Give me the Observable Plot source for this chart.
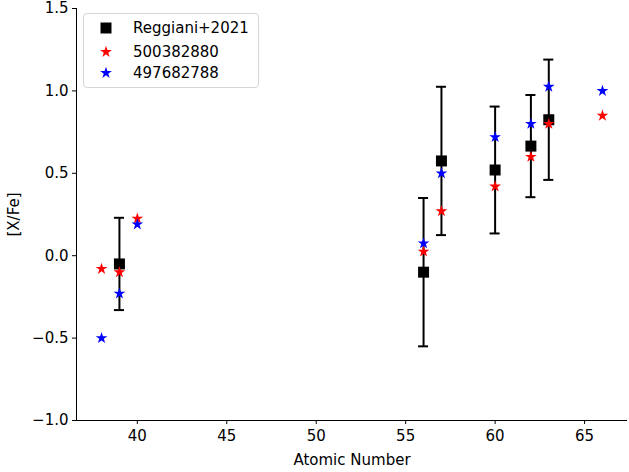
<!DOCTYPE html>
<html><head><meta charset="utf-8">
<script src="https://cdn.jsdelivr.net/npm/d3@7"></script>
<script src="https://cdn.jsdelivr.net/npm/@observablehq/plot@0.6"></script>
<style>
body{margin:0;background:#fff;font-family:"DejaVu Sans",sans-serif;}
#wrap{position:relative;width:629px;height:472px;}
#legend{position:absolute;left:83px;top:13px;width:176px;height:75px;border:1px solid #d5d5d5;border-radius:4px;background:rgba(255,255,255,0.8);box-sizing:border-box;font-size:15px;}
.row{position:absolute;left:0;height:22px;display:flex;align-items:center;}
.row svg{margin-left:15px;}
.row span{margin-left:20px;color:#000;}
</style></head>
<body><div id="wrap"><div id="chart"></div><div id="legend"></div></div>
<script>
// Reggiani+2021
const refZ = [39, 56, 57, 60, 62, 63];
const refY = [-0.05, -0.10, 0.575, 0.52, 0.665, 0.825];
const refErr = [0.28, 0.45, 0.45, 0.385, 0.31, 0.365];
// 500382880 (red)
const redZ = [38, 39, 40, 56, 57, 60, 62, 63, 66];
const redY = [-0.08, -0.10, 0.225, 0.025, 0.27, 0.42, 0.60, 0.80, 0.85];
// 497682788 (blue)
const blueZ = [38, 39, 40, 56, 57, 60, 62, 63, 66];
const blueY = [-0.50, -0.23, 0.19, 0.075, 0.50, 0.72, 0.80, 1.025, 1.00];
const xTicks = [40, 45, 50, 55, 60, 65];
const yTicks = [-1.0, -0.5, 0.0, 0.5, 1.0, 1.5];
const seriesNames = ["Reggiani+2021", "500382880", "497682788"];
const seriesColors = ["#000000", "#ff0000", "#0000ff"];

const ref = refZ.map((z, i) => ({x: z, y: refY[i], lo: refY[i] - refErr[i], hi: refY[i] + refErr[i]}));
const red = redZ.map((z, i) => ({x: z, y: redY[i]}));
const blue = blueZ.map((z, i) => ({x: z, y: blueY[i]}));
const capW = 0.28;
const fmtY = d => d.toFixed(1).replace("-", "\u2212");

const chart = Plot.plot({
  width: 629, height: 472,
  marginLeft: 76, marginRight: 2, marginTop: 8, marginBottom: 52,
  style: {fontFamily: "DejaVu Sans", fontSize: "15px", color: "#000", background: "#fff"},
  x: {domain: [36.6, 67.4], label: null},
  y: {domain: [-1.0, 1.5], label: null},
  marks: [
    Plot.axisX({ticks: xTicks, tickSize: 4, tickPadding: 6, fontSize: 15, tickFormat: d => d.toString(), label: null}),
    Plot.axisY({ticks: yTicks, tickSize: 4, tickPadding: 4, fontSize: 15, tickFormat: fmtY, label: null}),
    Plot.axisX({ticks: [], label: "Atomic Number", labelAnchor: "center", labelArrow: "none", labelOffset: 44, fontSize: 15}),
    Plot.axisY({ticks: [], label: "[X/Fe]", labelAnchor: "center", labelArrow: "none", labelOffset: 68, fontSize: 15}),
    Plot.ruleX([36.6], {stroke: "#000", strokeWidth: 1}),
    Plot.ruleY([-1.0], {stroke: "#000", strokeWidth: 1}),
    Plot.ruleX(ref, {x: "x", y1: "lo", y2: "hi", stroke: "#000", strokeWidth: 2}),
    Plot.ruleY(ref, {y: "lo", x1: d => d.x - capW, x2: d => d.x + capW, stroke: "#000", strokeWidth: 2}),
    Plot.ruleY(ref, {y: "hi", x1: d => d.x - capW, x2: d => d.x + capW, stroke: "#000", strokeWidth: 2}),
    Plot.dot(ref, {x: "x", y: "y", symbol: "square", r: 6.2, fill: "#000", stroke: "none"}),
    Plot.dot(red, {x: "x", y: "y", symbol: "star", r: 3.7, fill: "#ff0000", stroke: "none"}),
    Plot.dot(blue, {x: "x", y: "y", symbol: "star", r: 3.7, fill: "#0000ff", stroke: "none"})
  ]
});
document.getElementById("chart").appendChild(chart);

// legend
const leg = document.getElementById("legend");
const symbols = [d3.symbolSquare, d3.symbolStar, d3.symbolStar];
const sizes = [6.2 * 6.2 * Math.PI, 3.7 * 3.7 * Math.PI, 3.7 * 3.7 * Math.PI];
const rowsY = [3, 27, 48];
seriesNames.forEach((name, i) => {
  const row = document.createElement("div");
  row.className = "row";
  row.style.top = rowsY[i] + "px";
  const p = d3.symbol(symbols[i], sizes[i])();
  row.innerHTML = `<svg width="14" height="14" viewBox="-7 -7 14 14"><path d="${p}" fill="${seriesColors[i]}"/></svg><span>${name}</span>`;
  leg.appendChild(row);
});
</script></body></html>
